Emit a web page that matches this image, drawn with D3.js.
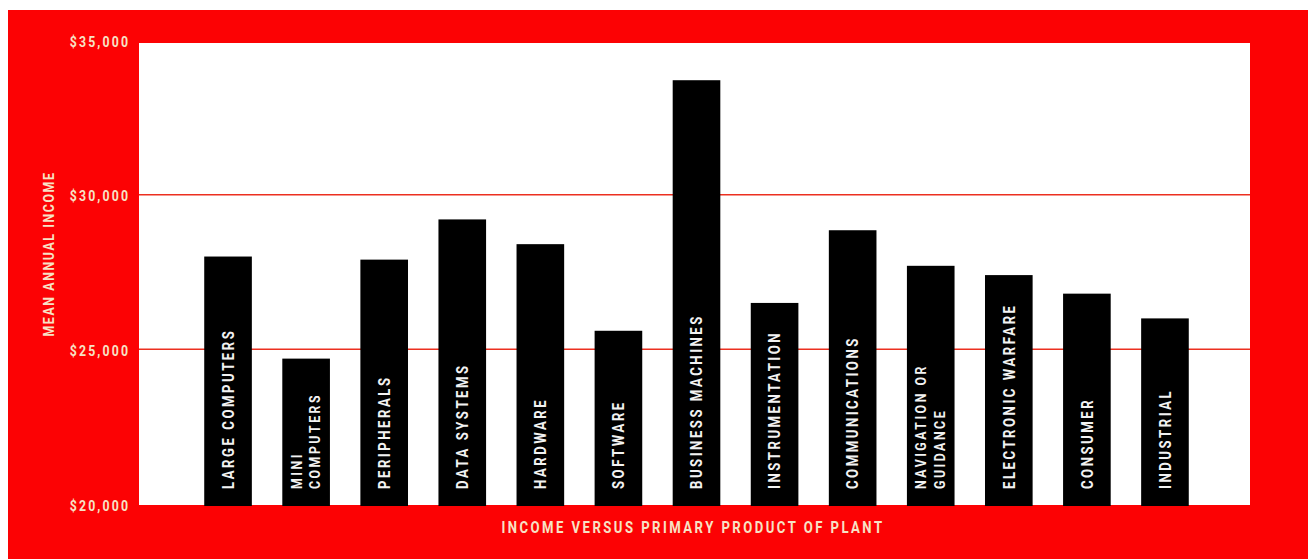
<!DOCTYPE html>
<html>
<head>
<meta charset="utf-8">
<title>Income versus primary product of plant</title>
<script src="https://d3js.org/d3.v7.min.js"></script>
<style>
body { margin: 0; background: #fff; }
text { font-family: Roboto, "DejaVu Sans Condensed", sans-serif; font-weight: bold; }
</style>
</head>
<body>
<div id="chart"></div>
<script>
// data
var products = ["LARGE COMPUTERS", "MINI|COMPUTERS", "PERIPHERALS", "DATA SYSTEMS", "HARDWARE",
                "SOFTWARE", "BUSINESS MACHINES", "INSTRUMENTATION", "COMMUNICATIONS",
                "NAVIGATION OR|GUIDANCE", "ELECTRONIC WARFARE", "CONSUMER", "INDUSTRIAL"];
var income = [28000, 24700, 27900, 29200, 28400, 25600, 33700, 26500, 28850, 27700, 27400, 26800, 26000];
var ticks = [20000, 25000, 30000, 35000];
var gridTicks = [25000, 30000];

var w = 1308, h = 559,
    red = "#fc0204",
    cream = "#f7e2c6",
    squeeze = "scale(0.82,1)",   // fake a condensed face
    plot = {left: 139, right: 1250, top: 43, bottom: 505};

var svg = d3.select("#chart").append("svg")
    .attr("width", w)
    .attr("height", h);

svg.append("rect")
   .attr("x", 8).attr("y", 10)
   .attr("width", w - 8).attr("height", h - 10)
   .attr("fill", red);

var y = d3.scaleLinear().domain([20000, 35000]).range([504, 40]);
var x = d3.scaleBand().domain(products).range([189, 1204])
    .paddingInner(0.39).paddingOuter(0.195);

svg.append("rect")
   .attr("x", plot.left).attr("y", plot.top)
   .attr("width", plot.right - plot.left).attr("height", plot.bottom - plot.top)
   .attr("fill", "#fff");

// gridlines
svg.selectAll("line.grid").data(gridTicks).enter().append("line")
   .attr("class", "grid")
   .attr("x1", plot.left).attr("x2", plot.right)
   .attr("y1", function(d){ return y(d); }).attr("y2", function(d){ return y(d); })
   .attr("stroke", "#ec3020").attr("stroke-width", 1.5);

// y axis labels
var yAxis = d3.axisLeft(y).tickValues(ticks).tickSize(0).tickPadding(-2.5)
    .tickFormat(function(d){ return "$" + d3.format(",")(d); });
var ga = svg.append("g").attr("transform", "translate(128,0)").call(yAxis);
ga.select(".domain").remove();
ga.selectAll("text")
  .attr("fill", cream)
  .attr("transform", squeeze)
  .attr("dy", "0.4em")
  .style("font-size", "15px")
  .style("letter-spacing", "2.6px")
  .style("font-family", "Roboto, \"DejaVu Sans Condensed\", sans-serif")
  .style("font-weight", "bold");

svg.append("text")
   .attr("transform", "translate(54,254) rotate(-90) " + squeeze)
   .attr("text-anchor", "middle")
   .attr("fill", cream)
   .style("font-size", "15px")
   .style("letter-spacing", "2px")
   .text("MEAN ANNUAL INCOME");

// bars
svg.selectAll("rect.bar").data(products).enter().append("rect")
   .attr("class", "bar")
   .attr("x", function(d){ return x(d); })
   .attr("width", x.bandwidth())
   .attr("y", function(d, i){ return y(income[i]); })
   .attr("height", function(d, i){ return 506 - y(income[i]); })
   .attr("fill", "#000");

// labels inside bars
var lab = svg.selectAll("g.lab").data(products).enter().append("g")
   .attr("class", "lab")
   .attr("transform", function(d){ return "translate(" + (x(d) + x.bandwidth() / 2) + ",489) rotate(-90) " + squeeze; });

lab.each(function(d){
  var lines = d.split("|"),
      g = d3.select(this);
  lines.forEach(function(s, j){
    var off = lines.length == 1 ? 5.8 : (j == 0 ? -4.5 : 14);
    g.append("text")
     .attr("x", 0).attr("y", off)
     .attr("fill", "#f2f2f2")
     .style("font-size", lines.length == 1 ? "16px" : "15px")
     .style("letter-spacing", "3.1px")
     .text(s);
  });
});

svg.append("text")
   .attr("transform", "translate(693,533) " + squeeze)
   .attr("text-anchor", "middle")
   .attr("fill", cream)
   .style("font-size", "16px")
   .style("letter-spacing", "3px")
   .text("INCOME VERSUS PRIMARY PRODUCT OF PLANT");
</script>
</body>
</html>
